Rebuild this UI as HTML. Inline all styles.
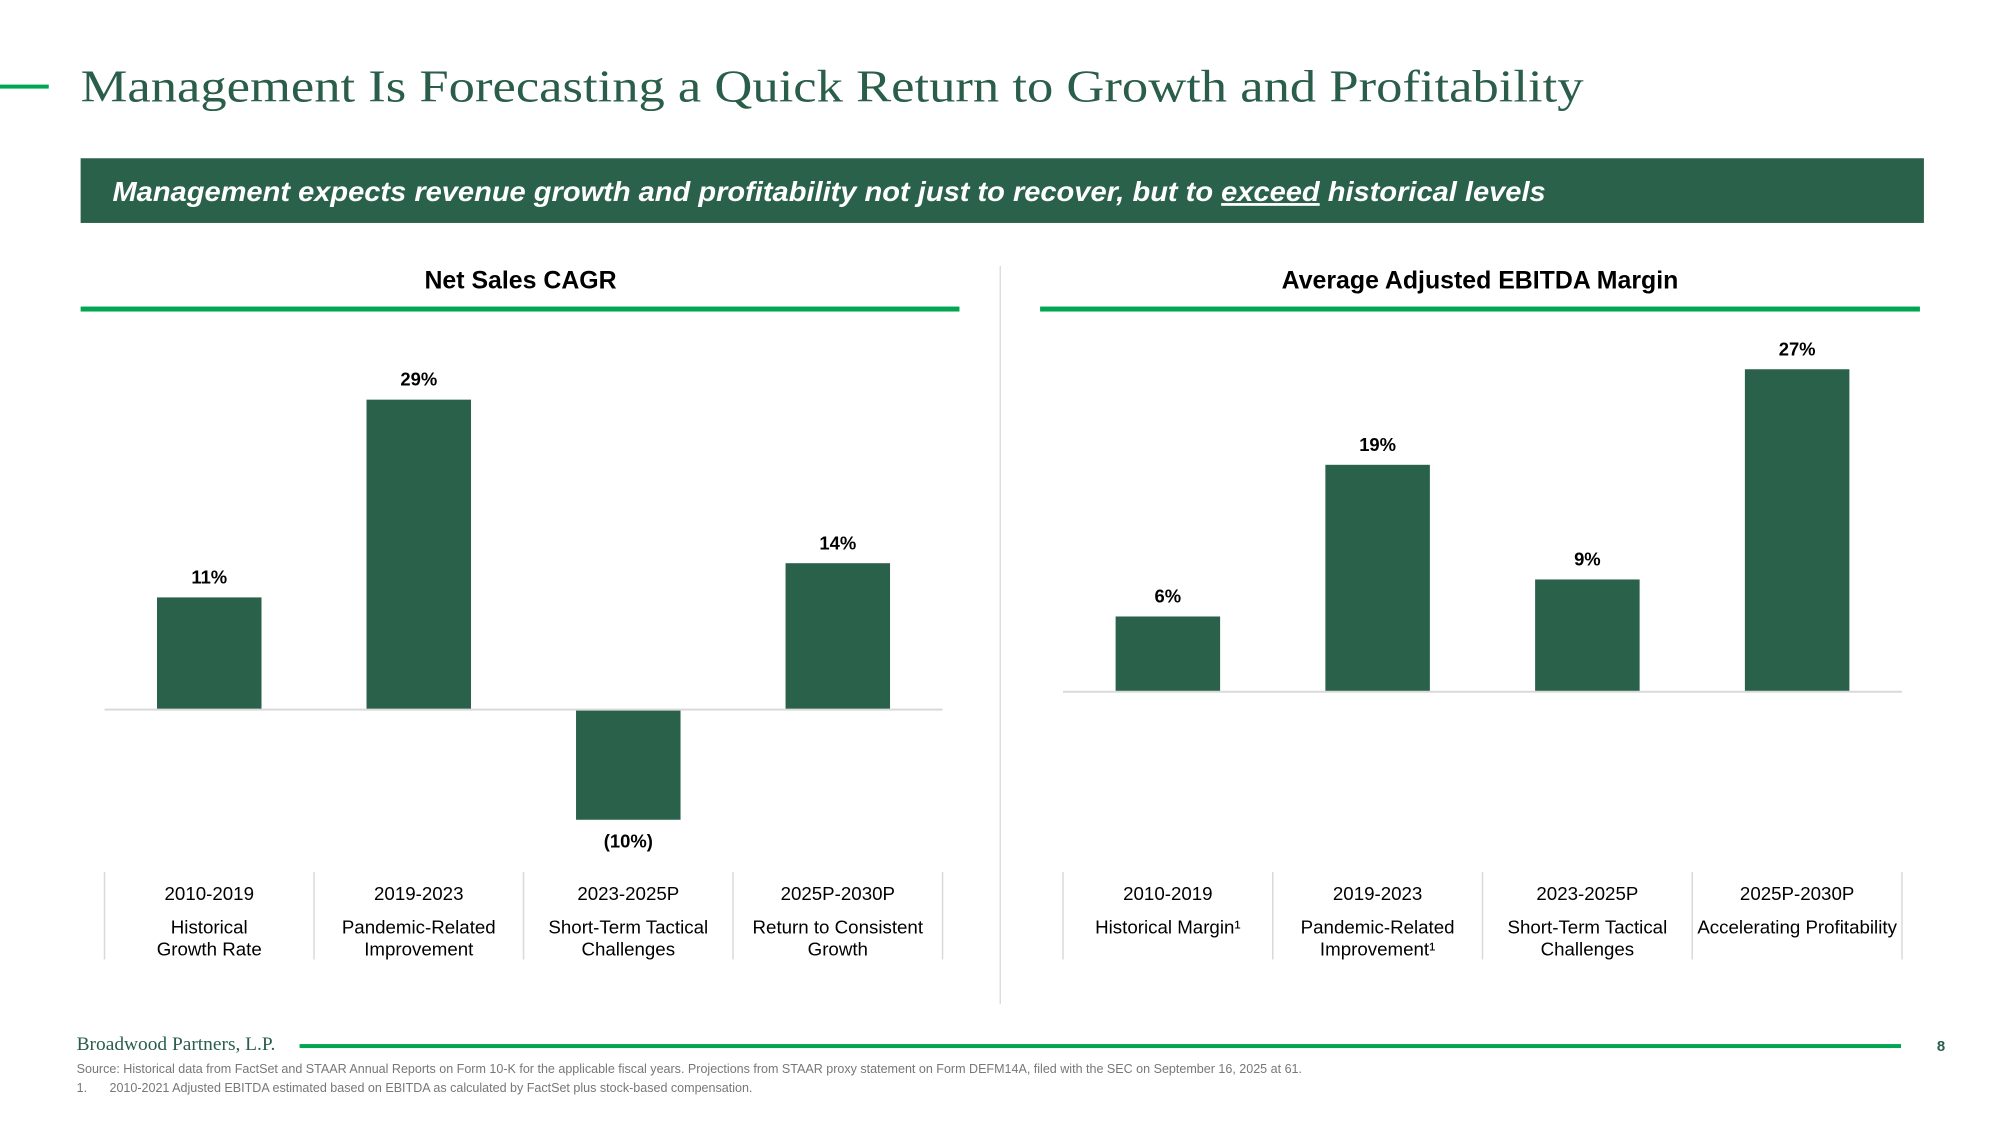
<!DOCTYPE html>
<html><head><meta charset="utf-8"><style>
html,body{margin:0;padding:0;background:#fff;}
svg{display:block;}
.sans{font-family:"Liberation Sans",sans-serif;}
.serif{font-family:"Liberation Serif",serif;}
</style></head>
<body>
<svg id="slide" width="2000" height="1123" viewBox="0 0 2000 1123" xmlns="http://www.w3.org/2000/svg">
<g transform="scale(0.9953)">
<rect x="0" y="85" width="49" height="4" fill="#00a651"/>
<text x="81" y="102" class="serif" font-size="46" fill="#2a5e4a" textLength="1510" lengthAdjust="spacingAndGlyphs">Management Is Forecasting a Quick Return to Growth and Profitability</text>
<rect x="81" y="159" width="1852" height="65" fill="#2a614b"/>
<text x="113" y="202" class="sans" font-size="28" font-weight="bold" font-style="italic" fill="#fff" textLength="1440" lengthAdjust="spacingAndGlyphs">Management expects revenue growth and profitability not just to recover, but to <tspan text-decoration="underline">exceed</tspan> historical levels</text>
<line x1="1005" y1="267" x2="1005" y2="1009" stroke="#dddddd" stroke-width="1.5"/>
<g id="left"></g>
<g id="right"></g>
<text x="77" y="1055" class="serif" font-size="19.5" fill="#2a5e4a">Broadwood Partners, L.P.</text>
<rect x="301" y="1049" width="1609" height="4" fill="#00a651"/>
<text x="1946" y="1056" class="sans" font-size="15" font-weight="bold" fill="#2a5e4a">8</text>
<text x="77" y="1078" class="sans" font-size="12.6" fill="#777">Source: Historical data from FactSet and STAAR Annual Reports on Form 10-K for the applicable fiscal years. Projections from STAAR proxy statement on Form DEFM14A, filed with the SEC on September 16, 2025 at 61.</text>
<text x="77" y="1097" class="sans" font-size="12.6" fill="#777">1.</text>
<text x="110" y="1097" class="sans" font-size="12.6" fill="#777">2010-2021 Adjusted EBITDA estimated based on EBITDA as calculated by FactSet plus stock-based compensation.</text>
</g>
</svg>
<script>
const periods = ["2010-2019","2019-2023","2023-2025P","2025P-2030P"];
const salesValues = [10.5, 29.0, -10.3, 13.7];
const salesLabels = ["11%","29%","(10%)","14%"];
const salesDesc = [["Historical","Growth Rate"],["Pandemic-Related","Improvement"],["Short-Term Tactical","Challenges"],["Return to Consistent","Growth"]];
const marginValues = [6.3, 19.0, 9.4, 27.0];
const marginLabels = ["6%","19%","9%","27%"];
const marginDesc = [["Historical Margin\u00b9"],["Pandemic-Related","Improvement\u00b9"],["Short-Term Tactical","Challenges"],["Accelerating Profitability"]];

const NS="http://www.w3.org/2000/svg";
function mk(tag, attrs, parent){const e=document.createElementNS(NS,tag);for(const k in attrs)e.setAttribute(k,attrs[k]);parent.appendChild(e);return e;}

function drawChart(g, cfg){
  const x0=cfg.x0, x1=cfg.x1, n=cfg.values.length, step=(x1-x0)/n, bw=105;
  const xc=i=>x0+step*(i+0.5);
  const y=v=>cfg.base - v*cfg.ppu;
  const t=mk('text',{x:cfg.titleX,y:290,'text-anchor':'middle','class':'sans','font-size':25,'font-weight':'bold',fill:'#000'},g);
  
  
  t.textContent=cfg.title;
  const r=mk('rect',{x:cfg.ruleX0,y:308,width:cfg.ruleX1-cfg.ruleX0,height:5,fill:'#00a651'},g);
  
  
  cfg.values.forEach((v,i)=>{
    const top=Math.min(y(v),y(0)), h=Math.abs(y(v)-y(0));
    const b=mk('rect',{x:xc(i)-bw/2,y:top,width:bw,height:h,fill:'#2a614b'},g);
    
    
    const ly = v>=0 ? y(v)-14 : y(v)+28;
    const l=mk('text',{x:xc(i),y:ly,'text-anchor':'middle','class':'sans','font-size':18.5,'font-weight':'bold',fill:'#000'},g);
    
    
    l.textContent=cfg.labels[i];
  });
  const ax=mk('line',{x1:x0,y1:y(0),x2:x1,y2:y(0),stroke:'#d9d9d9','stroke-width':2},g);
  
  
  for(let i=0;i<=n;i++){
    const s=mk('line',{x1:x0+step*i,y1:876,x2:x0+step*i,y2:964,stroke:'#d9d9d9','stroke-width':1.5},g);
    
    
  }
  periods.forEach((p,i)=>{
    const pt=mk('text',{x:xc(i),y:904,'text-anchor':'middle','class':'sans','font-size':18.8,fill:'#000'},g);
    
    
    pt.textContent=p;
    cfg.desc[i].forEach((d,j)=>{
      const dt=mk('text',{x:xc(i),y:938+j*22,'text-anchor':'middle','class':'sans','font-size':18.8,fill:'#000'},g);
      
      
      dt.textContent=d;
    });
  });
}
drawChart(document.getElementById('left'),{key:'sales',title:'Net Sales CAGR',titleX:523,ruleX0:81,ruleX1:964,x0:105,x1:947,base:713,ppu:10.74,values:salesValues,labels:salesLabels,desc:salesDesc});
drawChart(document.getElementById('right'),{key:'margin',title:'Average Adjusted EBITDA Margin',titleX:1487,ruleX0:1045,ruleX1:1929,x0:1068,x1:1911,base:695,ppu:12.0,values:marginValues,labels:marginLabels,desc:marginDesc});
</script>
</body></html>
